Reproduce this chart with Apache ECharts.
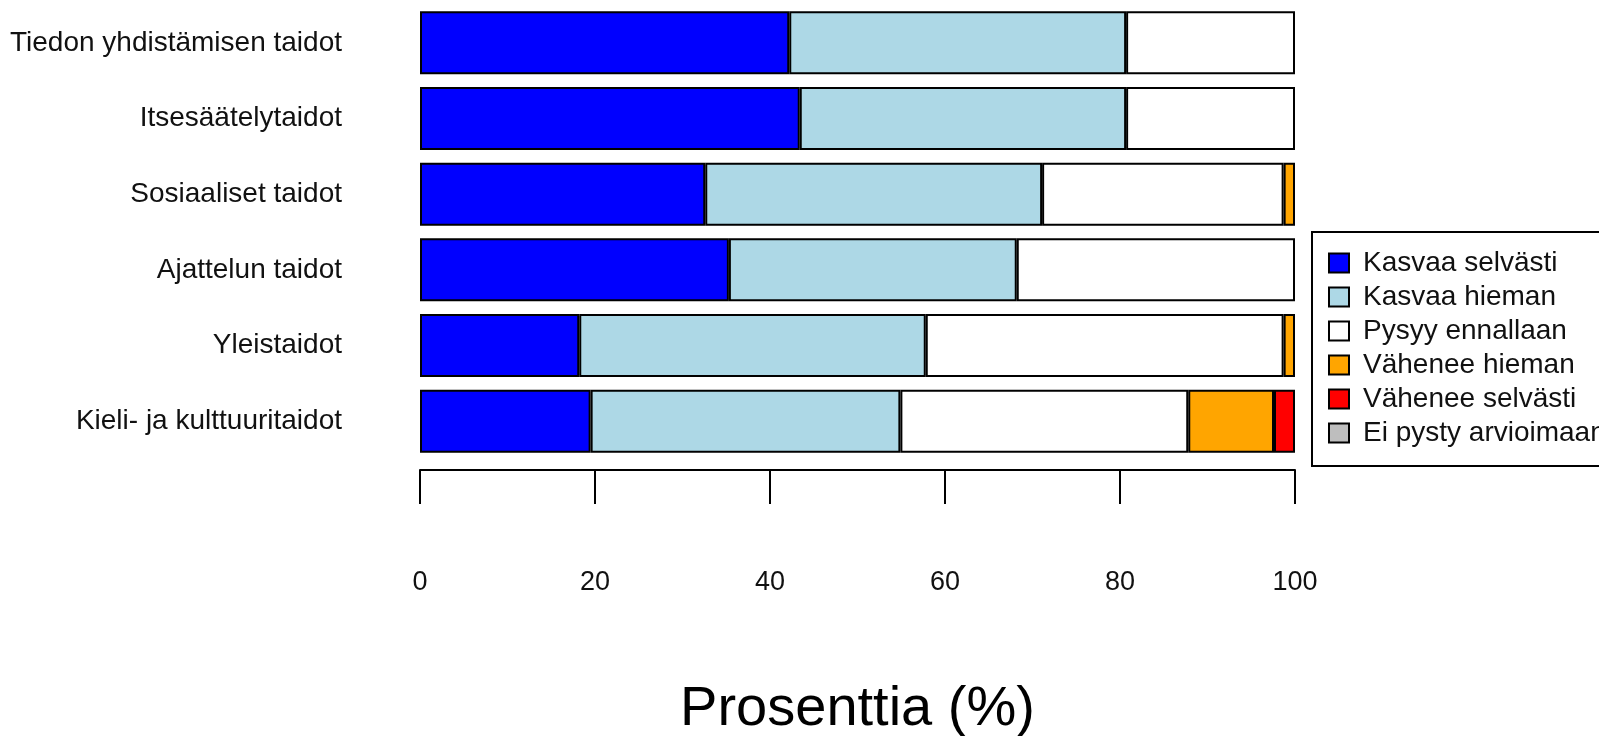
<!DOCTYPE html>
<html>
<head>
<meta charset="utf-8">
<title>Prosenttia (%)</title>
<script src="https://cdn.jsdelivr.net/npm/echarts@6/dist/echarts.min.js"></script>
<style>
  html, body { margin: 0; padding: 0; background: #fff; }
  #chart { width: 1599px; height: 736px; }
</style>
</head>
<body>
<div id="chart"></div>
<script>
// taitoalueet ylhäältä alas
const categories = [
  "Tiedon yhdistämisen taidot",
  "Itsesäätelytaidot",
  "Sosiaaliset taidot",
  "Ajattelun taidot",
  "Yleistaidot",
  "Kieli- ja kulttuuritaidot"
];
const seriesNames = [
  "Kasvaa selvästi",
  "Kasvaa hieman",
  "Pysyy ennallaan",
  "Vähenee hieman",
  "Vähenee selvästi",
  "Ei pysty arvioimaan"
];
// osuudet prosentteina, luettu kuvasta
const kasvaaSelvasti = [42.2, 43.4, 32.6, 35.3, 18.2, 19.5];
const kasvaaHieman = [38.5, 37.3, 38.5, 32.9, 39.6, 35.4];
const pysyyEnnallaan = [19.3, 19.3, 27.6, 31.8, 40.9, 32.9];
const vaheneeHieman = [0, 0, 1.3, 0, 1.3, 9.8];
const vaheneeSelvasti = [0, 0, 0, 0, 0, 2.4];
const eiPystyArvioimaan = [0, 0, 0, 0, 0, 0];
const xTicks = [0, 20, 40, 60, 80, 100];

const colors = ["#0000ff", "#add8e6", "#ffffff", "#ffa500", "#ff0000", "#bebebe"];
const allValues = [kasvaaSelvasti, kasvaaHieman, pysyyEnnallaan, vaheneeHieman, vaheneeSelvasti, eiPystyArvioimaan];

const font = "Liberation Sans, Arial, sans-serif";

const chart = echarts.init(document.getElementById("chart"), null, { renderer: "canvas" });

const series = seriesNames.map((name, i) => ({
  name: name,
  type: "bar",
  stack: "total",
  barCategoryGap: "16.7%",
  // nollat jätetään piirtämättä
  data: allValues[i].map(v => (v === 0 ? "-" : v)),
  itemStyle: {
    color: colors[i],
    borderColor: "#000",
    borderWidth: 2
  },
  emphasis: { disabled: true }
}));

const option = {
  backgroundColor: "#fff",
  animation: false,
  textStyle: { fontFamily: font },
  grid: {
    left: 420,
    width: 875,
    top: 5,
    height: 454,
    containLabel: false,
    outerBoundsMode: "none" // muuten v6 kutistaa gridin
  },
  xAxis: {
    type: "value",
    min: xTicks[0],
    max: xTicks[xTicks.length - 1],
    interval: xTicks[1] - xTicks[0],
    offset: 11,
    name: "Prosenttia (%)",
    nameLocation: "middle",
    nameGap: 212,
    nameTextStyle: { fontSize: 56, color: "#000", fontFamily: font },
    axisLine: { show: true, lineStyle: { color: "#000", width: 2 } },
    axisTick: { show: true, length: 34, lineStyle: { color: "#000", width: 2 } },
    axisLabel: { fontSize: 27, color: "#111", margin: 99, fontFamily: font },
    splitLine: { show: false }
  },
  yAxis: {
    type: "category",
    inverse: true,
    data: categories,
    axisLine: { show: false },
    axisTick: { show: false },
    axisLabel: { fontSize: 28, color: "#111", margin: 78, fontFamily: font }
  },
  legend: {
    orient: "vertical",
    left: 1312,
    top: 232,
    data: seriesNames,
    icon: "rect",
    itemWidth: 20,
    itemHeight: 19,
    itemGap: 6,
    padding: [17, 20, 19, 16],
    borderColor: "#000",
    borderWidth: 2,
    selectedMode: false,
    textStyle: { fontSize: 28, color: "#111", fontFamily: font, padding: [0, 0, 0, 9] }
  },
  series: series
};

chart.setOption(option);
</script>
</body>
</html>
